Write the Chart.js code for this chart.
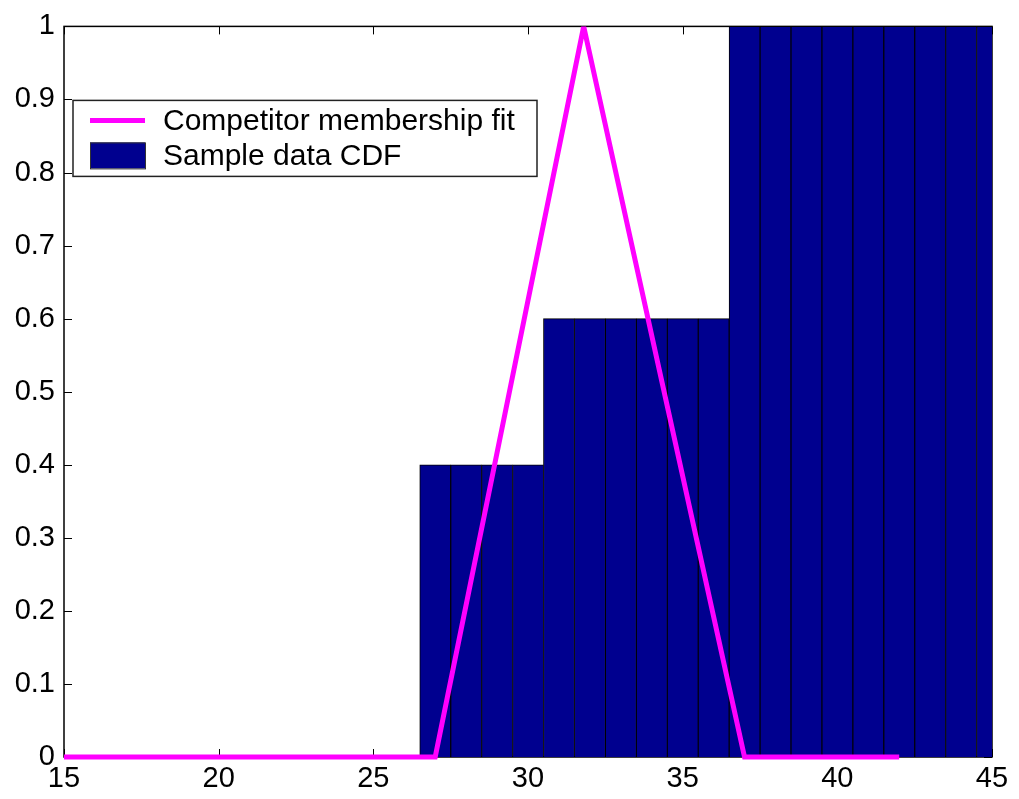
<!DOCTYPE html>
<html>
<head>
<meta charset="utf-8">
<script src="https://cdn.jsdelivr.net/npm/chart.js@4/dist/chart.umd.min.js"></script>
<style>
  html, body { margin: 0; padding: 0; background: #fff; }
  canvas { display: block; }
</style>
</head>
<body>
<canvas id="myChart" width="1019" height="799"></canvas>
<script>
// sample data CDF, one bar per integer x
var barX = [27, 28, 29, 30, 31, 32, 33, 34, 35, 36, 37, 38, 39, 40, 41, 42, 43, 44, 45];
var barY = [0.4, 0.4, 0.4, 0.4, 0.6, 0.6, 0.6, 0.6, 0.6, 0.6, 1, 1, 1, 1, 1, 1, 1, 1, 1];

// triangular membership fit
var fitX = [15, 27, 31.8, 37, 42];
var fitY = [0, 0, 1, 0, 0];

var xTicks = [15, 20, 25, 30, 35, 40, 45];
var yTicks = [0, 0.1, 0.2, 0.3, 0.4, 0.5, 0.6, 0.7, 0.8, 0.9, 1];

var fitLabel = 'Competitor membership fit';
var barLabel = 'Sample data CDF';

var navy = 'rgb(0,0,143)';
var magenta = '#ff00ff';
var font = '"Liberation Sans", Arial, Helvetica, sans-serif';

function toPoints(xs, ys) {
    return xs.map(function (x, i) { return { x: x, y: ys[i] }; });
}

// MATLAB style box with inward ticks, drawn under the bars
var axesBox = {
    id: 'axesBox',
    beforeDatasetsDraw: function (chart) {
        var ctx = chart.ctx;
        var a = chart.chartArea;
        var xs = chart.scales.x, ys = chart.scales.y;
        var tl = 8;
        ctx.save();
        ctx.strokeStyle = '#000';
        ctx.lineWidth = 1;
        xTicks.forEach(function (v) {
            var px = Math.round(xs.getPixelForValue(v)) + 0.5;
            ctx.beginPath();
            ctx.moveTo(px, a.bottom); ctx.lineTo(px, a.bottom - tl);
            ctx.moveTo(px, a.top); ctx.lineTo(px, a.top + tl);
            ctx.stroke();
        });
        yTicks.forEach(function (v) {
            var py = Math.round(ys.getPixelForValue(v)) + 0.5;
            ctx.beginPath();
            ctx.moveTo(a.left, py); ctx.lineTo(a.left + tl, py);
            ctx.moveTo(a.right, py); ctx.lineTo(a.right - tl, py);
            ctx.stroke();
        });
        ctx.lineWidth = 1.5;
        ctx.strokeRect(a.left, a.top, a.right - a.left, a.bottom - a.top);
        ctx.restore();
    }
};

// boxed legend in the upper left of the plot
var boxLegend = {
    id: 'boxLegend',
    afterDraw: function (chart) {
        var ctx = chart.ctx;
        var a = chart.chartArea;
        var bx = a.left + 9, by = a.top + 74, bw = 464, bh = 76;
        ctx.save();
        ctx.fillStyle = '#fff';
        ctx.fillRect(bx, by, bw, bh);
        ctx.strokeStyle = '#222';
        ctx.lineWidth = 1.5;
        ctx.strokeRect(bx, by, bw, bh);

        ctx.strokeStyle = magenta;
        ctx.lineWidth = 5;
        ctx.beginPath();
        ctx.moveTo(bx + 17, by + 20);
        ctx.lineTo(bx + 72, by + 20);
        ctx.stroke();

        ctx.fillStyle = navy;
        ctx.fillRect(bx + 17, by + 42, 55, 26);
        ctx.strokeStyle = '#333';
        ctx.lineWidth = 1;
        ctx.strokeRect(bx + 17.5, by + 42.5, 55, 26);

        ctx.fillStyle = '#000';
        ctx.font = '30px ' + font;
        ctx.textBaseline = 'middle';
        ctx.textAlign = 'left';
        ctx.fillText(chart.data.datasets[0].label, bx + 90, by + 21);
        ctx.fillText(chart.data.datasets[1].label, bx + 90, by + 56);
        ctx.restore();
    }
};

var ctx = document.getElementById('myChart').getContext('2d');
var myChart = new Chart(ctx, {
    data: {
        datasets: [{
            type: 'line',
            label: fitLabel,
            data: toPoints(fitX, fitY),
            borderColor: magenta,
            borderWidth: 5,
            borderJoinStyle: 'miter',
            pointRadius: 0,
            tension: 0,
            fill: false,
            clip: { left: 0, top: 0, right: 0, bottom: 5 }
        }, {
            type: 'bar',
            label: barLabel,
            data: toPoints(barX, barY),
            backgroundColor: navy,
            borderColor: '#000',
            borderWidth: { left: 1, top: 1, right: 0.8, bottom: 0 },
            borderSkipped: false,
            barPercentage: 1,
            categoryPercentage: 1,
            clip: 0
        }]
    },
    options: {
        responsive: false,
        animation: false,
        layout: { padding: { top: 26, right: 27, left: 0, bottom: 0 } },
        plugins: {
            legend: { display: false },
            tooltip: { enabled: false }
        },
        scales: {
            x: {
                type: 'linear',
                min: 15,
                max: 45,
                offset: false,
                grid: { display: false, drawTicks: false, offset: false },
                border: { display: false },
                afterBuildTicks: function (scale) {
                    scale.ticks = xTicks.map(function (v) { return { value: v }; });
                },
                afterFit: function (scale) { scale.height = 42; },
                ticks: {
                    color: '#000',
                    padding: 5,
                    maxRotation: 0,
                    font: { family: font, size: 29 }
                }
            },
            y: {
                type: 'linear',
                min: 0,
                max: 1,
                grid: { display: false, drawTicks: false },
                border: { display: false },
                afterBuildTicks: function (scale) {
                    scale.ticks = yTicks.map(function (v) { return { value: v }; });
                },
                afterFit: function (scale) { scale.width = 64; },
                ticks: {
                    color: '#000',
                    padding: 9,
                    font: { family: font, size: 29 },
                    callback: function (value) { return String(Math.round(value * 10) / 10); }
                }
            }
        }
    },
    plugins: [axesBox, boxLegend]
});
</script>
</body>
</html>
